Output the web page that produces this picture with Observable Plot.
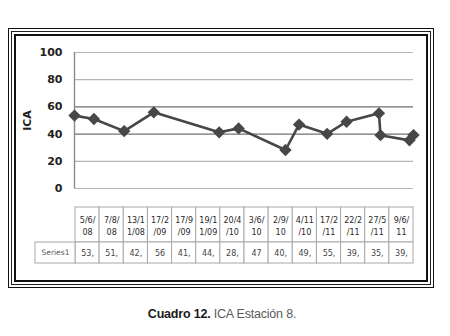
<!DOCTYPE html>
<html>
<head>
<meta charset="utf-8">
<script src="https://cdn.jsdelivr.net/npm/d3@7"></script>
<script src="https://cdn.jsdelivr.net/npm/@observablehq/plot@0.6"></script>
<style>
  html, body { margin: 0; padding: 0; background: #fff; }
  #wrap { position: relative; width: 450px; height: 336px; overflow: hidden; background: #fff; }
  .f { position: absolute; box-sizing: border-box; }
  #f1 { left: 8px; top: 28px; width: 426px; height: 260px; border: 1px solid #111; }
  #f2 { left: 11px; top: 31px; width: 420px; height: 254px; border: 1px solid #222; }
  #f3 { left: 14px; top: 34px; width: 414px; height: 248px; border: 2px solid #111; }
  #chart, #table { position: absolute; left: 0; }
  #chart { top: 0; }
  #table { top: 200px; }
  #caption { position: absolute; top: 307px; left: 0; width: 444px; text-align: center;
    font: 12.5px "Liberation Sans", Arial, sans-serif; color: #5a5a5a; letter-spacing: -0.2px; }
  #caption b { color: #1a1a1a; }
</style>
</head>
<body>
<div id="wrap">
  <div class="f" id="f1"></div>
  <div class="f" id="f2"></div>
  <div class="f" id="f3"></div>
  <div id="chart"></div>
  <div id="table"></div>
  <div id="caption"><b>Cuadro 12.</b> ICA Estación 8.</div>
</div>
<script>
// Data
const dateLabels = ["5/6/08", "7/8/08", "13/11/08", "17/2/09", "17/9/09", "19/11/09", "20/4/10",
  "3/6/10", "2/9/10", "4/11/10", "17/2/11", "22/2/11", "27/5/11", "9/6/11"];
const icaValues = [53.6, 51.1, 42.2, 56, 41.3, 44.2, 28.3, 47, 40.2, 49.1, 55.3, 39.2, 35.4, 39.3];
const seriesName = "Series1";
const yTicks = [0, 20, 40, 60, 80, 100];
const strongGrid = [40, 60];
const lightGrid = [0, 20, 80, 100];

const parse = d3.utcParse("%d/%m/%y");
const data = dateLabels.map((d, i) => ({label: d, date: parse(d), value: icaValues[i], i}));

const chart = Plot.plot({
  width: 450,
  height: 200,
  marginLeft: 74,
  marginRight: 37,
  marginTop: 52,
  marginBottom: 12,
  style: {background: "transparent", overflow: "visible"},
  x: {type: "utc", domain: [data[0].date, data[data.length - 1].date], axis: null},
  y: {domain: [0, 100]},
  marks: [
    Plot.gridY(lightGrid, {stroke: "#b5b5b5", strokeOpacity: 1, strokeWidth: 1.2}),
    Plot.gridY(strongGrid, {stroke: "#707070", strokeOpacity: 1, strokeWidth: 1.4}),
    Plot.ruleX([data[0].date], {y1: 0, y2: 100, stroke: "#8a8a8a", strokeWidth: 1.4}),
    Plot.axisY(yTicks, {
      tickSize: 0, tickPadding: 12, label: "ICA", labelAnchor: "center", labelArrow: "none",
      labelOffset: 51, fontSize: 11, fontWeight: "bold", fill: "#222",
      fontFamily: "'DejaVu Sans', sans-serif"
    }),
    Plot.line(data, {x: "date", y: "value", stroke: "#474747", strokeWidth: 2.6}),
    Plot.dot(data, {x: "date", y: "value", symbol: "diamond2", r: 4.6, fill: "#474747", stroke: "#474747"})
  ]
});
document.getElementById("chart").append(chart);

// Data table beneath the plot
const n = dateLabels.length;
const headerBottom = 0.625;
const labelColW = 40 / 24.14;
const cols = data.map(d => ({...d, x1: d.i, x2: d.i + 1}));
const tbl = Plot.plot({
  width: 450,
  height: 70,
  marginLeft: 35,
  marginRight: 37,
  marginTop: 7,
  marginBottom: 7,
  style: {background: "transparent", overflow: "visible"},
  x: {domain: [-labelColW, n], axis: null},
  y: {domain: [0, 1], reverse: true, axis: null},
  marks: [
    Plot.rect(cols, {x1: "x1", x2: "x2", y1: 0, y2: headerBottom, fill: "#fff", stroke: "#a8a8a8", strokeWidth: 1}),
    Plot.rect(cols, {x1: "x1", x2: "x2", y1: headerBottom, y2: 1, fill: "#fff", stroke: "#a8a8a8", strokeWidth: 1}),
    Plot.rect([seriesName], {x1: -labelColW, x2: 0, y1: headerBottom, y2: 1, fill: "#fff", stroke: "#a8a8a8", strokeWidth: 1}),
    Plot.text(cols, {
      x: d => d.i + 0.5, y: headerBottom / 2,
      text: d => d.label.slice(0, 4) + "\n" + d.label.slice(4),
      fontSize: 8, lineHeight: 1.45, fill: "#2a2a2a", fontWeight: 500, fontFamily: "'DejaVu Sans', sans-serif"
    }),
    Plot.text(cols, {
      x: d => d.i + 0.5, y: (headerBottom + 1) / 2,
      text: d => Number.isInteger(d.value) ? String(d.value) : Math.trunc(d.value) + ",",
      fontSize: 8, fill: "#444", fontFamily: "'DejaVu Sans', sans-serif"
    }),
    Plot.text([seriesName], {
      x: -labelColW / 2, y: (headerBottom + 1) / 2, text: d => d,
      fontSize: 7.5, fill: "#555", fontFamily: "'DejaVu Sans', sans-serif"
    })
  ]
});
document.getElementById("table").append(tbl);
</script>
</body>
</html>
